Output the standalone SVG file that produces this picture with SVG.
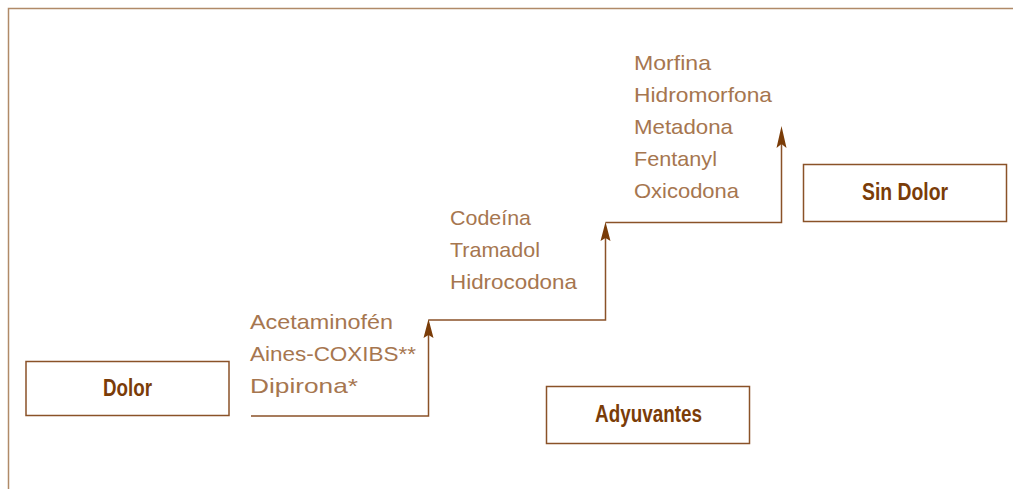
<svg xmlns="http://www.w3.org/2000/svg" width="1013" height="489" viewBox="0 0 1013 489">
<style>
.frame{fill:none;stroke:#b08a68;stroke-width:1.5}
.box{fill:#fff;stroke:#8a5228;stroke-width:1.5}
.lbl{font-family:"Liberation Sans",Arial,sans-serif;font-weight:bold;font-size:23px;fill:#7a3c08;text-anchor:middle}
.drug{font-family:"Liberation Sans","Noto Sans",sans-serif;font-size:21px;fill:#a6764f}
.conn{fill:none;stroke:#8a5228;stroke-width:1.5}
.head{fill:#7a3c08}
</style>
<rect width="1013" height="489" fill="#fff"/>
<path class="frame" d="M8.5,489 V8.5 H1013"/>
<g id="connectors">
<path class="conn" d="M251,416 H428.5 V330"/>
<path class="conn" d="M428.5,320 H605.5 V233"/>
<path class="conn" d="M605.5,222.5 H781.5 V138"/>
<path class="head" d="M428.5,319 L423.5,338 L428.5,335 L433.5,338 Z"/>
<path class="head" d="M605.5,222 L600.5,241 L605.5,238 L610.5,241 Z"/>
<path class="head" d="M781.5,126 L776.5,148 L781.5,144 L786.5,148 Z"/>
</g>
<g id="dolor"><rect class="box" x="26" y="361.5" width="203" height="54"/><text class="lbl" x="127.5" y="396" textLength="49" lengthAdjust="spacingAndGlyphs">Dolor</text></g>
<g id="sindolor"><rect class="box" x="803.5" y="164.5" width="203" height="57"/><text class="lbl" x="905" y="200" textLength="86" lengthAdjust="spacingAndGlyphs">Sin Dolor</text></g>
<g id="adyuvantes"><rect class="box" x="546.5" y="386.5" width="203" height="57"/><text class="lbl" x="648.5" y="422" textLength="107" lengthAdjust="spacingAndGlyphs">Adyuvantes</text></g>
<g id="step1" class="drug"><text x="250" y="329" textLength="143" lengthAdjust="spacingAndGlyphs">Acetaminofén</text><text x="250" y="361" textLength="166" lengthAdjust="spacingAndGlyphs">Aines-COXIBS**</text><text x="250" y="393" textLength="108" lengthAdjust="spacingAndGlyphs">Dipirona*</text></g>
<g id="step2" class="drug"><text x="450" y="225" textLength="81" lengthAdjust="spacingAndGlyphs">Codeína</text><text x="450" y="257" textLength="90" lengthAdjust="spacingAndGlyphs">Tramadol</text><text x="450" y="289" textLength="127" lengthAdjust="spacingAndGlyphs">Hidrocodona</text></g>
<g id="step3" class="drug"><text x="634" y="70" textLength="77" lengthAdjust="spacingAndGlyphs">Morfina</text><text x="634" y="102" textLength="138" lengthAdjust="spacingAndGlyphs">Hidromorfona</text><text x="634" y="134" textLength="99" lengthAdjust="spacingAndGlyphs">Metadona</text><text x="634" y="166" textLength="83" lengthAdjust="spacingAndGlyphs">Fentanyl</text><text x="634" y="198" textLength="105" lengthAdjust="spacingAndGlyphs">Oxicodona</text></g>
</svg>
